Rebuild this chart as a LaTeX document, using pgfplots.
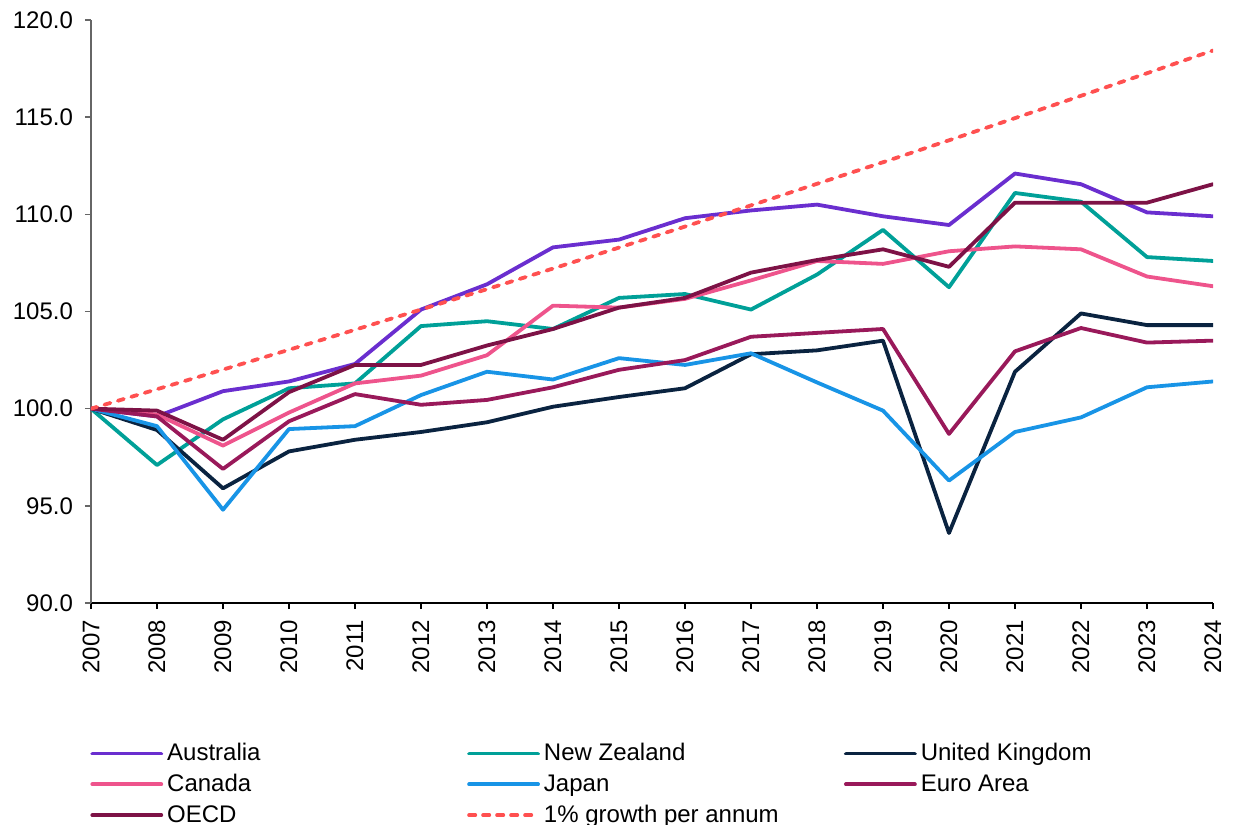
\documentclass[border=0pt]{standalone}
\usepackage{pgfplots}
\usepackage{pgfplotstable}
\pgfplotsset{compat=1.18}
\usepackage{fontspec}
\setmainfont{Liberation Sans}

\definecolor{aus}{RGB}{106,46,207}
\definecolor{nz}{RGB}{0,160,152}
\definecolor{uk}{RGB}{10,35,64}
\definecolor{can}{RGB}{238,84,140}
\definecolor{jpn}{RGB}{24,148,230}
\definecolor{euro}{RGB}{153,25,90}
\definecolor{oecd}{RGB}{125,18,70}
\definecolor{growth}{RGB}{255,80,80}

\pgfplotstableread{
year  aus    nz     uk     can    jpn    euro   oecd   grow
2007  100.0  100.0  100.0  100.0  100.0  100.0  100.0  100.00
2008  99.6   97.1   98.9   99.7   99.1   99.6   99.9   101.00
2009  100.9  99.45  95.9   98.1   94.8   96.9   98.4   102.01
2010  101.4  101.05 97.8   99.8   98.95  99.35  100.85 103.03
2011  102.3  101.3  98.4   101.3  99.1   100.75 102.25 104.06
2012  105.1  104.25 98.8   101.7  100.7  100.2  102.25 105.10
2013  106.4  104.5  99.3   102.75 101.9  100.45 103.25 106.15
2014  108.3  104.1  100.1  105.3  101.5  101.1  104.1  107.21
2015  108.7  105.7  100.6  105.2  102.6  102.0  105.2  108.29
2016  109.8  105.9  101.05 105.65 102.25 102.5  105.7  109.37
2017  110.2  105.1  102.8  106.6  102.85 103.7  107.0  110.46
2018  110.5  106.9  103.0  107.6  101.35 103.9  107.65 111.57
2019  109.9  109.2  103.5  107.45 99.9   104.1  108.2  112.68
2020  109.45 106.25 93.6   108.1  96.3   98.7   107.3  113.81
2021  112.1  111.1  101.9  108.35 98.8   102.95 110.6  114.95
2022  111.55 110.65 104.9  108.2  99.55  104.15 110.6  116.10
2023  110.1  107.8  104.3  106.8  101.1  103.4  110.6  117.26
2024  109.9  107.6  104.3  106.3  101.4  103.5  111.55 118.43
}\datatable

\newcommand{\lent}[1]{\makebox[148pt][l]{#1}}

\begin{document}
\begin{tikzpicture}
	\useasboundingbox (-45.5pt,-111pt) rectangle (571pt,301.5pt);
	\begin{axis}[
		scale only axis,
		width = 561pt,
		height = 291.5pt,
		xmin = 2007, xmax = 2024,
		ymin = 90, ymax = 120,
		xtick = {2007,...,2024},
		ytick = {90,95,...,120},
		axis x line* = bottom,
		axis y line* = left,
		axis line style = {-},
		x axis line style = {black, line width=0.8pt},
		y axis line style = {gray!80!black, line width=0.7pt},
		tick align = outside,
		major tick length = 3pt,
		xtick style = {black, line width=0.8pt},
		ytick style = {gray!80!black, line width=0.7pt},
		font = \fontsize{12}{14}\selectfont,
		/pgf/number format/assume math mode = true,
		xticklabel style = {yshift=-2pt, rotate=90, anchor=east, /pgf/number format/1000 sep={}},
		yticklabel style = {xshift=-2.5pt, /pgf/number format/fixed, /pgf/number format/fixed zerofill, /pgf/number format/precision=1},
		every axis plot/.append style = {line width=1.9pt, line join=round, line cap=round},
		legend columns = 3,
		legend style = {draw=none, fill=none, at={(axis description cs:0,0)}, anchor=north west,
			yshift=-68pt, xshift=-0.5pt, inner sep=0pt, row sep=1.2pt,
			/tikz/every odd column/.append style={column sep=0pt}},
		legend cell align = left,
		legend image code/.code = {\draw[line width=1.9pt, #1] (0pt,0pt) -- (34.5pt,0pt);},
		]
		\addplot[aus] table[x=year, y=aus] {\datatable};
		\addlegendentry{\lent{Australia}}
		\addplot[nz] table[x=year, y=nz] {\datatable};
		\addlegendentry{\lent{New Zealand}}
		\addplot[uk] table[x=year, y=uk] {\datatable};
		\addlegendentry{\lent{United Kingdom}}
		\addplot[can] table[x=year, y=can] {\datatable};
		\addlegendentry{\lent{Canada}}
		\addplot[jpn] table[x=year, y=jpn] {\datatable};
		\addlegendentry{\lent{Japan}}
		\addplot[euro] table[x=year, y=euro] {\datatable};
		\addlegendentry{\lent{Euro Area}}
		\addplot[oecd] table[x=year, y=oecd] {\datatable};
		\addlegendentry{\lent{OECD}}
		\addplot[growth, dash pattern=on 3.1pt off 3.9pt] table[x=year, y=grow] {\datatable};
		\addlegendentry{\lent{1\% growth per annum}}
	\end{axis}
\end{tikzpicture}
\end{document}
